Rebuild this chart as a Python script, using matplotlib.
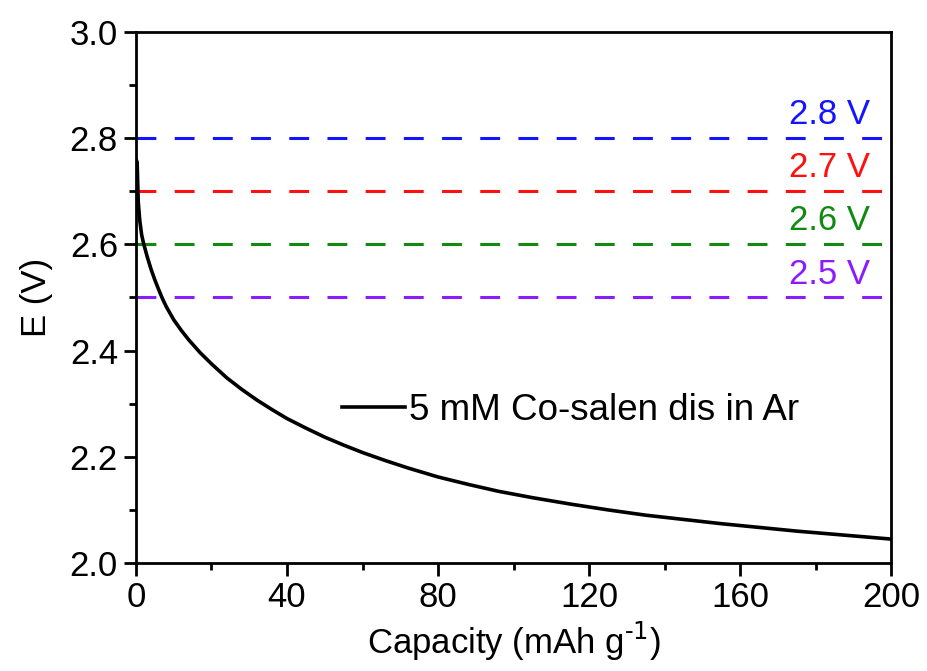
import numpy as np
import matplotlib.pyplot as plt
from matplotlib.ticker import MultipleLocator

plt.rcParams['font.family'] = ['Liberation Sans', 'DejaVu Sans']

# discharge curve
capacity = [0, 0.3, 0.6, 1, 1.5, 2, 3, 4, 5, 6, 7, 8, 10, 12, 14, 17, 20, 24, 28,
            32, 36, 40, 45, 50, 55, 60, 66, 72, 80, 88, 96, 105, 115, 125, 135,
            145, 155, 165, 175, 185, 200]
potential = [2.76, 2.755, 2.68, 2.645, 2.618, 2.602, 2.576, 2.553, 2.533, 2.515,
             2.498, 2.483, 2.458, 2.438, 2.420, 2.396, 2.375, 2.349, 2.327, 2.307,
             2.289, 2.272, 2.254, 2.237, 2.222, 2.208, 2.193, 2.179, 2.162, 2.148,
             2.135, 2.123, 2.111, 2.100, 2.090, 2.082, 2.074, 2.067, 2.060, 2.054,
             2.045]

cutoffs = [2.8, 2.7, 2.6, 2.5]
cutoff_labels = ["2.8 V", "2.7 V", "2.6 V", "2.5 V"]
cutoff_colors = ['#1414ff', '#ff1010', '#118a11', '#8a1cff']

fig = plt.figure(figsize=(9.27, 6.71), dpi=100)
ax = fig.add_axes([0.1467, 0.161, 0.8145, 0.7913])

for v, lab, c in zip(cutoffs, cutoff_labels, cutoff_colors):
    ax.plot([0, 200], [v, v], color=c, lw=2.2, dashes=(6.5, 6))
    ax.text(194.5, v + 0.013, lab, color=c, fontsize=25, ha='right', va='bottom')

ax.plot(capacity, potential, color='black', lw=2.6, solid_joinstyle='round',
        label="5 mM Co-salen dis in Ar")

ax.set_xlim(0, 200)
ax.set_ylim(2.0, 3.0)
ax.xaxis.set_major_locator(MultipleLocator(40))
ax.xaxis.set_minor_locator(MultipleLocator(20))
ax.yaxis.set_major_locator(MultipleLocator(0.2))
ax.yaxis.set_minor_locator(MultipleLocator(0.1))
ax.yaxis.set_major_formatter(plt.FormatStrFormatter('%.1f'))

ax.tick_params(which='major', direction='out', length=9, width=2, labelsize=25, pad=4)
ax.tick_params(which='minor', direction='out', length=5, width=2)
for s in ax.spines.values():
    s.set_linewidth(2)

ax.set_xlabel("Capacity (mAh g$^{\\text{-1}}$)", fontsize=25, labelpad=4)
ax.set_ylabel("E (V)", fontsize=25, labelpad=12)

ax.legend(loc='center left', bbox_to_anchor=(0.273, 0.288), frameon=False,
          fontsize=26.5, handlelength=1.7, handletextpad=0.12,
          borderpad=0, borderaxespad=0)

fig.savefig("out.png", dpi=100)
